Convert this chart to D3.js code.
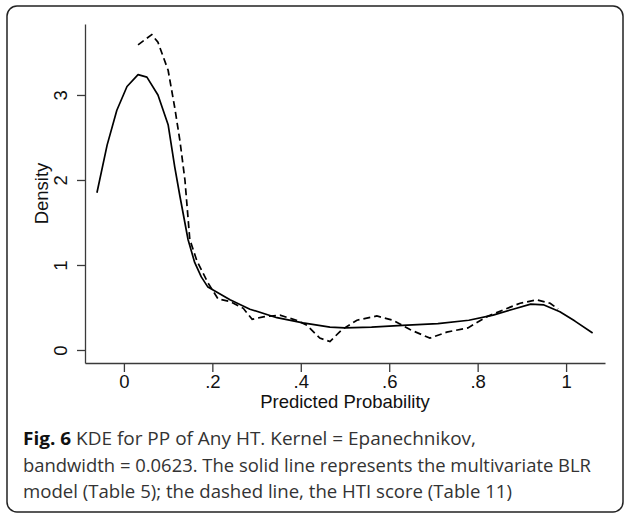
<!DOCTYPE html>
<html>
<head>
<meta charset="utf-8">
<script src="https://cdn.jsdelivr.net/npm/d3@7"></script>
<style>
    html, body { margin: 0; padding: 0; background: #fff; }
    svg { display: block; }
</style>
</head>
<body>
<div id="chart"></div>
<script>
// KDE of predicted probability: solid = BLR model, dashed = HTI score

// [predicted probability, density]
var blrCurve = [
    [-0.061, 1.85], [-0.038, 2.41], [-0.016, 2.82], [0.007, 3.10], [0.032, 3.24],
    [0.052, 3.21], [0.077, 3.00], [0.100, 2.65], [0.115, 2.15], [0.127, 1.80],
    [0.145, 1.30], [0.160, 1.03], [0.175, 0.86], [0.190, 0.74], [0.240, 0.59],
    [0.285, 0.48], [0.346, 0.38], [0.405, 0.32], [0.466, 0.27], [0.500, 0.26],
    [0.560, 0.27], [0.630, 0.29], [0.710, 0.31], [0.780, 0.35], [0.835, 0.41],
    [0.880, 0.48], [0.920, 0.54], [0.950, 0.53], [0.986, 0.45], [1.020, 0.34],
    [1.060, 0.20]
];

var htiCurve = [
    [0.032, 3.59], [0.063, 3.71], [0.077, 3.62], [0.100, 3.29], [0.115, 2.85],
    [0.127, 2.45], [0.138, 2.00], [0.149, 1.30], [0.165, 1.05], [0.190, 0.79],
    [0.213, 0.60], [0.240, 0.57], [0.270, 0.49], [0.290, 0.36], [0.315, 0.39],
    [0.353, 0.41], [0.390, 0.35], [0.414, 0.29], [0.443, 0.14], [0.466, 0.10],
    [0.493, 0.24], [0.527, 0.35], [0.572, 0.40], [0.609, 0.35], [0.647, 0.24],
    [0.692, 0.14], [0.730, 0.21], [0.778, 0.26], [0.820, 0.39], [0.857, 0.47],
    [0.896, 0.55], [0.934, 0.59], [0.964, 0.55], [0.982, 0.48]
];

var xTicks = [0, 0.2, 0.4, 0.6, 0.8, 1];
var xTickLabels = ['0', '.2', '.4', '.6', '.8', '1'];
var yTicks = [0, 1, 2, 3];

var captionLines = [
    { bold: 'Fig. 6', text: ' KDE for PP of Any HT. Kernel = Epanechnikov,', width: 453 },
    { bold: '', text: 'bandwidth = 0.0623. The solid line represents the multivariate BLR', width: 568 },
    { bold: '', text: 'model (Table 5); the dashed line, the HTI score (Table 11)', width: 489 }
];

var width = 626;
var height = 514;
var AXIS_COLOR = '#3a3a3a';
var TICK_FONT = '"Liberation Sans", Arial, Helvetica, sans-serif';
var LABEL_SIZE = '18.5px';

var svg = d3.select('#chart').append('svg')
    .attr('width', width)
    .attr('height', height);

// Rounded frame round figure + caption
svg.append('rect')
    .attr('x', 7).attr('y', 6)
    .attr('width', 616).attr('height', 506)
    .attr('rx', 10).attr('ry', 10)
    .attr('fill', 'none')
    .attr('stroke', '#222')
    .attr('stroke-width', 1.5);

// Scales
var xScale = d3.scaleLinear().domain([-0.088, 1.088]).range([85, 605]);
var yScale = d3.scaleLinear().domain([-0.153, 3.835]).range([363, 24]);

// X axis
var xAxisG = svg.append('g')
    .attr('transform', 'translate(0,' + yScale.range()[0] + ')')
    .call(d3.axisBottom(xScale)
        .tickValues(xTicks)
        .tickFormat(function(d, i) { return xTickLabels[i]; })
        .tickSize(9)
        .tickSizeOuter(0)
        .tickPadding(3));

// Y axis
var yAxisG = svg.append('g')
    .attr('transform', 'translate(' + xScale.range()[0] + ',0)')
    .call(d3.axisLeft(yScale)
        .tickValues(yTicks)
        .tickFormat(d3.format('d'))
        .tickSize(8)
        .tickSizeOuter(0));

yAxisG.selectAll('.tick text')
    .attr('x', 0).attr('y', 0).attr('dy', 0)
    .attr('text-anchor', 'middle')
    .attr('transform', 'translate(-18,0) rotate(-90)');

[xAxisG, yAxisG].forEach(function(g) {
    g.attr('font-size', null).attr('font-family', null);
    g.select('.domain').attr('stroke', AXIS_COLOR).attr('stroke-width', 1.3);
    g.selectAll('.tick line').attr('stroke', AXIS_COLOR).attr('stroke-width', 1.3);
    g.selectAll('.tick text')
        .attr('fill', '#111')
        .style('font-family', TICK_FONT)
        .style('font-size', LABEL_SIZE);
});

// Axis titles
svg.append('text')
    .attr('x', (xScale.range()[0] + xScale.range()[1]) / 2)
    .attr('y', 408)
    .attr('text-anchor', 'middle')
    .style('font-family', TICK_FONT)
    .style('font-size', LABEL_SIZE)
    .attr('fill', '#111')
    .text('Predicted Probability');

svg.append('text')
    .attr('transform', 'translate(48,' + ((yScale.range()[0] + yScale.range()[1]) / 2) + ') rotate(-90)')
    .attr('text-anchor', 'middle')
    .style('font-family', TICK_FONT)
    .style('font-size', LABEL_SIZE)
    .attr('fill', '#111')
    .text('Density');

// Curves
var line = d3.line()
    .x(function(d) { return xScale(d[0]); })
    .y(function(d) { return yScale(d[1]); });

svg.append('path')
    .datum(blrCurve)
    .attr('d', line)
    .attr('fill', 'none')
    .attr('stroke', '#000')
    .attr('stroke-width', 1.7)
    .attr('stroke-linejoin', 'round');

svg.append('path')
    .datum(htiCurve)
    .attr('d', line)
    .attr('fill', 'none')
    .attr('stroke', '#000')
    .attr('stroke-width', 1.7)
    .attr('stroke-dasharray', '7,4');

// Caption (narrow face in the original, so squeeze each line to its width)
var captionFont = '"Open Sans", "Noto Sans", sans-serif';
var captionG = svg.append('g');
captionLines.forEach(function(l, i) {
    var t = captionG.append('text')
        .attr('x', 23)
        .attr('y', 445 + i * 26.5)
        .attr('textLength', l.width)
        .attr('lengthAdjust', 'spacingAndGlyphs')
        .style('font-family', captionFont)
        .style('font-size', '17.5px')
        .attr('fill', '#333');
    if (l.bold) {
        t.append('tspan').attr('font-weight', 'bold').attr('fill', '#111').text(l.bold);
    }
    t.append('tspan').text(l.text);
});
</script>
</body>
</html>
